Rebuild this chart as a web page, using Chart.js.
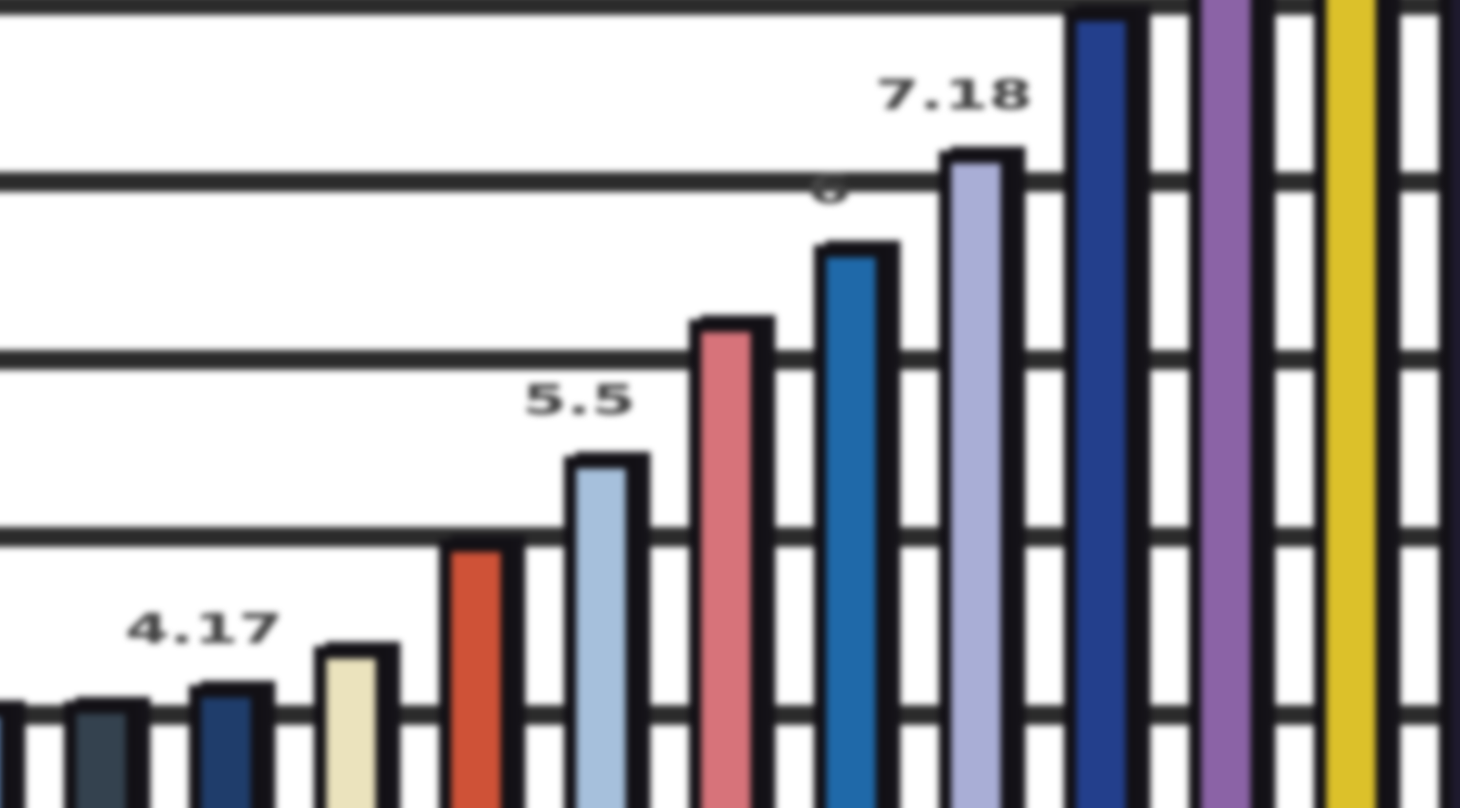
<!DOCTYPE html>
<html>
<head>
<meta charset="utf-8">
<title>Barras</title>
<script src="https://cdn.jsdelivr.net/npm/chart.js@4.4.1/dist/chart.umd.min.js"></script>
<style>
    html, body { margin: 0; padding: 0; background: #ffffff; overflow: hidden; }
    /* el lienzo sobresale 8px por cada lado para que el desenfoque no aclare los bordes */
    #contenedor { position: absolute; left: -8px; top: -8px; width: 1476px; height: 824px; }
    #grafica { filter: blur(3px); }
</style>
</head>
<body>
<div id="contenedor"><canvas id="grafica"></canvas></div>
<script>
// Categorias (una barra por categoria)
var categorias = ["1", "2", "3", "4", "5", "6", "7", "8", "9", "10", "11", "12", "13"];
// Valores de cada barra
var valores = [4.06, 4.08, 4.17, 4.39, 4.99, 5.46, 6.23, 6.65, 7.18, 7.98, 8.6, 9.2, 9.8];
// Texto que aparece encima de algunas barras
var etiquetas = ["", "", "4.17", "", "", "5.5", "", "6", "7.18", "", "", "", ""];
// Lineas horizontales de la cuadricula
var marcasY = [4, 5, 6, 7, 8];
// Parte visible de los ejes (la imagen es un recorte)
var rangoX = [0.128, 11.936];
var rangoY = [3.431, 8.073];

var colores = [
    "#5d7fa8", "#34424f", "#1f3d6b", "#ebe3bd", "#cf5237", "#a6c0dc", "#d7737a",
    "#1f69a9", "#a9aed6", "#233f8c", "#8b63a6", "#dcc12a", "#1e1a2e"
];

// Sombra oscura a la derecha de cada barra y texto encima
var decoracion = {
    id: "decoracion",
    beforeDatasetsDraw: function (chart) {
        var ctx = chart.ctx;
        var area = chart.chartArea;
        ctx.save();
        ctx.beginPath();
        ctx.rect(area.left, area.top, area.right - area.left, area.bottom - area.top);
        ctx.clip();
        ctx.fillStyle = "#141218";
        chart.getDatasetMeta(0).data.forEach(function (barra) {
            var p = barra.getProps(["x", "y", "base", "width"], true);
            ctx.fillRect(p.x - p.width / 2 + 12, p.y - 4, p.width, p.base - p.y + 4);
        });
        ctx.restore();
    },
    afterDatasetsDraw: function (chart) {
        var ctx = chart.ctx;
        ctx.save();
        ctx.fillStyle = "#444444";
        ctx.font = "bold 40px 'DejaVu Sans'";
        ctx.textAlign = "center";
        ctx.textBaseline = "middle";
        chart.getDatasetMeta(0).data.forEach(function (barra, i) {
            if (!etiquetas[i]) return;
            ctx.save();
            ctx.translate(barra.x - 22, barra.y - 52);
            ctx.scale(1.6, 1);
            ctx.fillText(etiquetas[i], 0, 0);
            ctx.restore();
        });
        ctx.restore();
    }
};

var ctx = document.getElementById("grafica").getContext("2d");
var chart = new Chart(ctx, {
    type: "bar",
    data: {
        labels: categorias,
        datasets: [
            {
                label: "Serie",
                data: categorias.map(function (c, i) { return { x: i, y: valores[i] }; }),
                backgroundColor: colores,
                borderColor: "#121015",
                borderWidth: 13,
                borderSkipped: false,
                barPercentage: 0.6,
                categoryPercentage: 1.0
            }
        ]
    },
    options: {
        responsive: true,
        maintainAspectRatio: false,
        animation: false,
        layout: { padding: 0 },
        plugins: {
            legend: { display: false },
            tooltip: { enabled: false }
        },
        scales: {
            x: {
                type: "linear",
                min: rangoX[0],
                max: rangoX[1],
                offset: false,
                grid: { offset: false },
                display: false
            },
            y: {
                min: rangoY[0],
                max: rangoY[1],
                border: { display: false },
                grid: { color: "#2b2b2b", lineWidth: 20, drawTicks: false },
                ticks: { display: false, stepSize: 1, includeBounds: false },
                afterBuildTicks: function (scale) {
                    scale.ticks = marcasY.map(function (v) { return { value: v }; });
                }
            }
        }
    },
    plugins: [decoracion]
});
</script>
</body>
</html>
